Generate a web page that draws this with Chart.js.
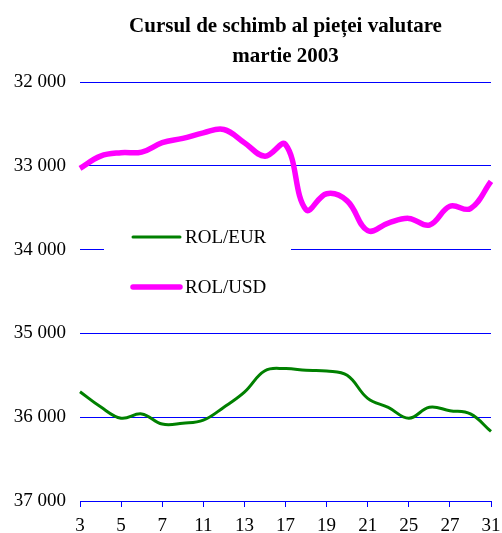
<!DOCTYPE html>
<html>
<head>
<meta charset="utf-8">
<script src="https://cdn.jsdelivr.net/npm/chart.js@4.4.1/dist/chart.umd.min.js"></script>
<style>
  html, body { margin: 0; padding: 0; background: #fff; }
  #wrap { position: relative; width: 502px; height: 533px; }
</style>
</head>
<body>
<div id="wrap"><canvas id="fx-chart"></canvas></div>
<script>
// trading days, march 2003
const days = [3, 4, 5, 6, 7, 10, 11, 12, 13, 14, 17, 18, 19, 20, 21, 24, 25, 26, 27, 28, 31];
const rolEur = [35696, 35876, 36012, 35961, 36082, 36072, 36035, 35880, 35700, 35445,
  35420, 35440, 35448, 35500, 35775, 35882, 36012, 35882, 35922, 35961, 36170];
const rolUsd = [33030, 32884, 32843, 32836, 32724, 32673, 32606, 32566, 32724, 32884,
  32745, 33523, 33333, 33418, 33774, 33683, 33627, 33707, 33483, 33510, 33185];
const yTicks = [32000, 33000, 34000, 35000, 36000, 37000];

const serif = "'Liberation Serif', 'Times New Roman', serif";
const gridBlue = "#0000ff";

const fmt = v => String(v).replace(/\B(?=(\d{3})+(?!\d))/g, " ");

// legend drawn inside the plot, on a white box that hides the gridline
const boxLegend = {
  id: "boxLegend",
  beforeDatasetsDraw(chart) {
    const ctx = chart.ctx;
    ctx.save();
    ctx.fillStyle = "#fff";
    ctx.fillRect(104, 214, 187, 88);
    const rows = [237, 287];
    chart.data.datasets.forEach((ds, i) => {
      const y = rows[i];
      ctx.strokeStyle = ds.borderColor;
      ctx.lineWidth = ds.borderWidth;
      ctx.lineCap = "round";
      ctx.beginPath();
      ctx.moveTo(133, y);
      ctx.lineTo(180, y);
      ctx.stroke();
      ctx.fillStyle = "#000";
      ctx.font = "19px " + serif;
      ctx.textBaseline = "middle";
      ctx.fillText(ds.label, 185, y + 1);
    });
    ctx.restore();
  }
};

const ctx = document.getElementById("fx-chart").getContext("2d");
new Chart(ctx, {
  type: "line",
  data: {
    labels: days,
    datasets: [
      {
        label: "ROL/EUR",
        data: rolEur,
        borderColor: "#008000",
        backgroundColor: "#008000",
        borderWidth: 3,
        pointRadius: 0,
        tension: 0.4,
        fill: false
      },
      {
        label: "ROL/USD",
        data: rolUsd,
        borderColor: "#ff00ff",
        backgroundColor: "#ff00ff",
        borderWidth: 5.5,
        pointRadius: 0,
        tension: 0.4,
        fill: false
      }
    ]
  },
  options: {
    responsive: true,
    maintainAspectRatio: false,
    animation: false,
    layout: { padding: { left: 0, right: 11, top: 0, bottom: 0 } },
    plugins: {
      legend: { display: false },
      tooltip: { enabled: false },
      title: {
        display: true,
        fullSize: false,
        text: ["Cursul de schimb al pieței valutare", "martie 2003"],
        color: "#000",
        font: { family: serif, size: 21, weight: "bold", lineHeight: 1.43 },
        padding: { top: 12, bottom: 10 }
      }
    },
    scales: {
      x: {
        type: "category",
        offset: false,
        afterFit: axis => {
          axis.height = 32;
          axis.paddingLeft = 0;
          axis.paddingRight = 0;
        },
        grid: {
          drawOnChartArea: false,
          drawTicks: true,
          tickLength: 6,
          color: c => (c.index % 2 === 0 ? gridBlue : "rgba(0,0,0,0)"),
          lineWidth: 1
        },
        border: { display: true, color: gridBlue, width: 1 },
        ticks: {
          autoSkip: false,
          maxRotation: 0,
          padding: 10,
          color: "#000",
          font: { family: serif, size: 19, lineHeight: 1 },
          callback: (val, i) => (i % 2 === 0 ? String(days[i]) : "")
        }
      },
      y: {
        reverse: true,
        min: yTicks[0],
        max: yTicks[yTicks.length - 1],
        afterBuildTicks: axis => { axis.ticks = yTicks.map(v => ({ value: v })); },
        afterFit: axis => { axis.width = 80; },
        grid: { color: gridBlue, lineWidth: 1, drawTicks: false },
        border: { display: false },
        ticks: {
          padding: 14,
          color: "#000",
          font: { family: serif, size: 19 },
          callback: v => fmt(v)
        }
      }
    }
  },
  plugins: [boxLegend]
});
</script>
</body>
</html>
